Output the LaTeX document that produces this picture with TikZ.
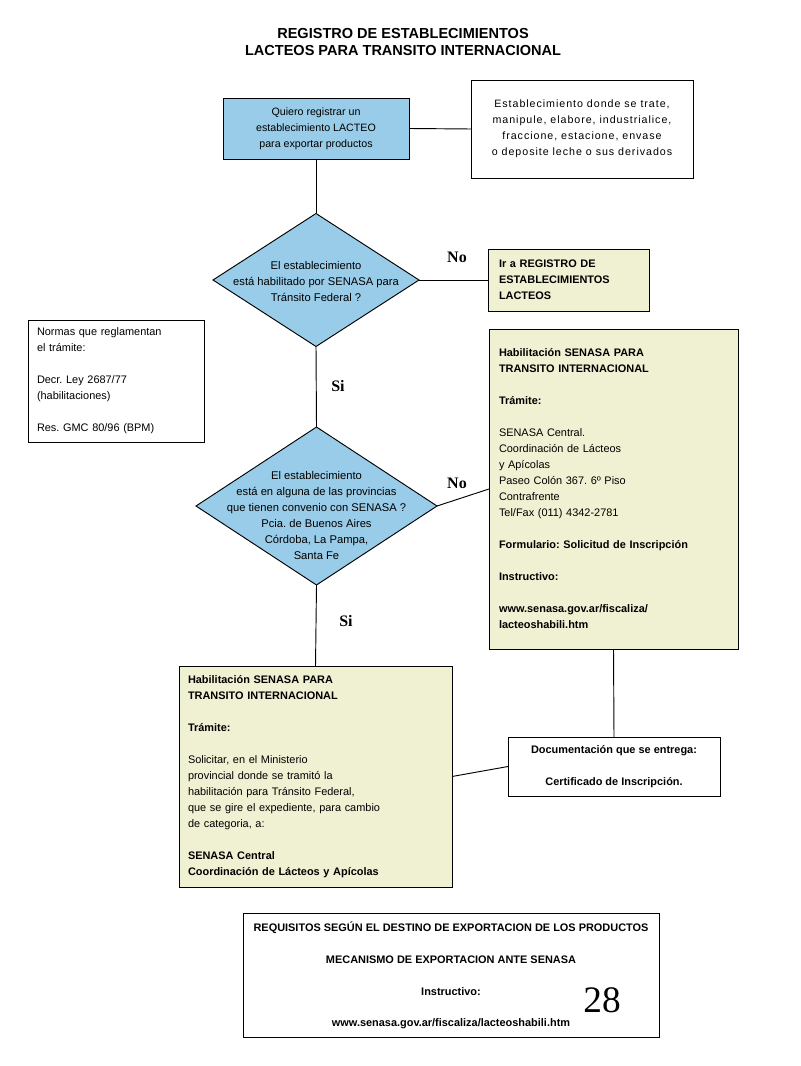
\documentclass[tikz,border=0pt]{standalone}
\usepackage{fontspec}
\setmainfont{Liberation Sans}
\newfontfamily\serifface{Liberation Serif}
\usetikzlibrary{shapes.geometric}
\definecolor{skyb}{RGB}{153,204,232}
\definecolor{paleyel}{RGB}{240,240,210}
\tikzset{
  box/.style={draw=black, line width=0.7pt, inner ysep=0pt, outer sep=0pt},
  dia/.style={diamond, draw=black, fill=skyb, line width=0.7pt, inner sep=0pt, outer sep=0pt},
  dtext/.style={align=center, inner sep=0pt, font=\fontsize{8.4}{12}\selectfont},
  lab/.style={inner sep=0pt, font=\serifface\bfseries\fontsize{12}{14}\selectfont},
  conn/.style={line width=0.7pt},
  yel/.style={box, fill=paleyel, align=left, font=\fontsize{8.2}{12}\selectfont},
  reqline/.style={inner sep=0pt, font=\bfseries\fontsize{8.2}{9}\selectfont}
}
\frenchspacing
\begin{document}
\frenchspacing
\begin{tikzpicture}[x=0.75pt,y=-0.75pt]
\useasboundingbox (0,0) rectangle (800,1066);
\node[inner sep=0pt, align=center, font=\bfseries\fontsize{10.9}{12.75}\selectfont] (title) at (403,42) {REGISTRO DE ESTABLECIMIENTOS\\LACTEOS PARA TRANSITO INTERNACIONAL};

\node[box, fill=skyb, minimum width=139.5pt, minimum height=45.75pt, align=center, font=\fontsize{8}{12}\selectfont] (b1) at (316,128.5) {Quiero registrar un\\establecimiento LACTEO\\para exportar productos};

\node[box, minimum width=166.5pt, minimum height=73.5pt, align=center, font=\fontsize{8}{12}\selectfont\addfontfeatures{LetterSpace=9}] (b2) at (582,129) {Establecimiento donde se trate,\\manipule, elabore, industrialice,\\fraccione, estacione, envase\\o deposite leche o sus derivados};

\node[dia, minimum width=154.5pt, minimum height=99.75pt] (d1) at (316,280) {};
\node[dtext] (d1t) at (316,281) {El establecimiento\\está habilitado por SENASA para\\Tránsito Federal ?};

\node[yel, inner xsep=8.25pt, text width=104.25pt, minimum height=46.5pt, font=\bfseries\fontsize{8.2}{12}\selectfont] (b3) at (568.5,280) {Ir a REGISTRO DE\\ESTABLECIMIENTOS\\LACTEOS};

\node[box, inner xsep=6.75pt, text width=118.5pt, minimum height=91.5pt, align=left, font=\fontsize{8.2}{12}\selectfont] (norm) at (116,381) {Normas que reglamentan\\el trámite:\\[12pt]Decr. Ley 2687/77\\(habilitaciones)\\[12pt]Res. GMC 80/96 (BPM)};

\node[dia, minimum width=180.75pt, minimum height=118.5pt] (d2) at (316.5,506) {};
\node[dtext] (d2t) at (316.5,515) {El establecimiento\\está en alguna de las provincias\\que tienen convenio con SENASA ?\\Pcia. de Buenos Aires\\Córdoba, La Pampa,\\Santa Fe};

\node[yel, inner xsep=7.5pt, text width=171.75pt, minimum height=240pt] (b4) at (613.5,489) {\textbf{Habilitación SENASA PARA}\\\textbf{TRANSITO INTERNACIONAL}\\[12pt]\textbf{Trámite:}\\[12pt]SENASA Central.\\Coordinación de Lácteos\\y Apícolas\\Paseo Colón 367. 6º Piso\\Contrafrente\\Tel/Fax (011) 4342-2781\\[12pt]\textbf{Formulario: Solicitud de Inscripción}\\[12pt]\textbf{Instructivo:}\\[12pt]\textbf{www.senasa.gov.ar/fiscaliza/}\\\textbf{lacteoshabili.htm}};

\node[yel, inner xsep=6.75pt, text width=191.25pt, minimum height=165.75pt] (b5) at (315.5,776.5) {\textbf{Habilitación SENASA PARA}\\\textbf{TRANSITO INTERNACIONAL}\\[12pt]\textbf{Trámite:}\\[12pt]Solicitar, en el Ministerio\\provincial donde se tramitó la\\habilitación para Tránsito Federal,\\que se gire el expediente, para cambio\\de categoria, a:\\[12pt]\textbf{SENASA Central}\\\textbf{Coordinación de Lácteos y Apícolas}};

\node[box, minimum width=159pt, minimum height=44.25pt, align=center, font=\bfseries\fontsize{8.2}{12}\selectfont] (b6) at (614,766.5) {Documentación que se entrega:\\[12pt]Certificado de Inscripción.};

\node[box, minimum width=312pt, minimum height=93pt] (b7) at (451,975) {};
\node[reqline] (r1) at (451,928) {REQUISITOS SEGÚN EL DESTINO DE EXPORTACION DE LOS PRODUCTOS};
\node[reqline] (r2) at (451,960) {MECANISMO DE EXPORTACION ANTE SENASA};
\node[reqline] (r3) at (451,992) {Instructivo:};
\node[reqline] (r4) at (451,1024) {www.senasa.gov.ar/fiscaliza/lacteoshabili.htm};
\node[inner sep=0pt, font=\serifface\fontsize{28}{30}\selectfont] (num) at (602,1000) {28};

\node[lab] (no1) at (457,257) {No};
\node[lab] (no2) at (457,483) {No};
\node[lab] (si1) at (338,386) {Si};
\node[lab] (si2) at (346,621) {Si};

\draw[conn] (b1.east) -- (b2.west);
\draw[conn] (b1.south) -- (d1.north);
\draw[conn] (d1.east) -- (b3.west);
\draw[conn] (d1.south) -- (d2.north);
\draw[conn] (d2.east) -- (b4.west);
\draw[conn] (d2.south) -- (b5.north);
\draw[conn] (b4.south) -- (b6.north);
\draw[conn] (b5.east) -- (b6.west);
\end{tikzpicture}
\end{document}
